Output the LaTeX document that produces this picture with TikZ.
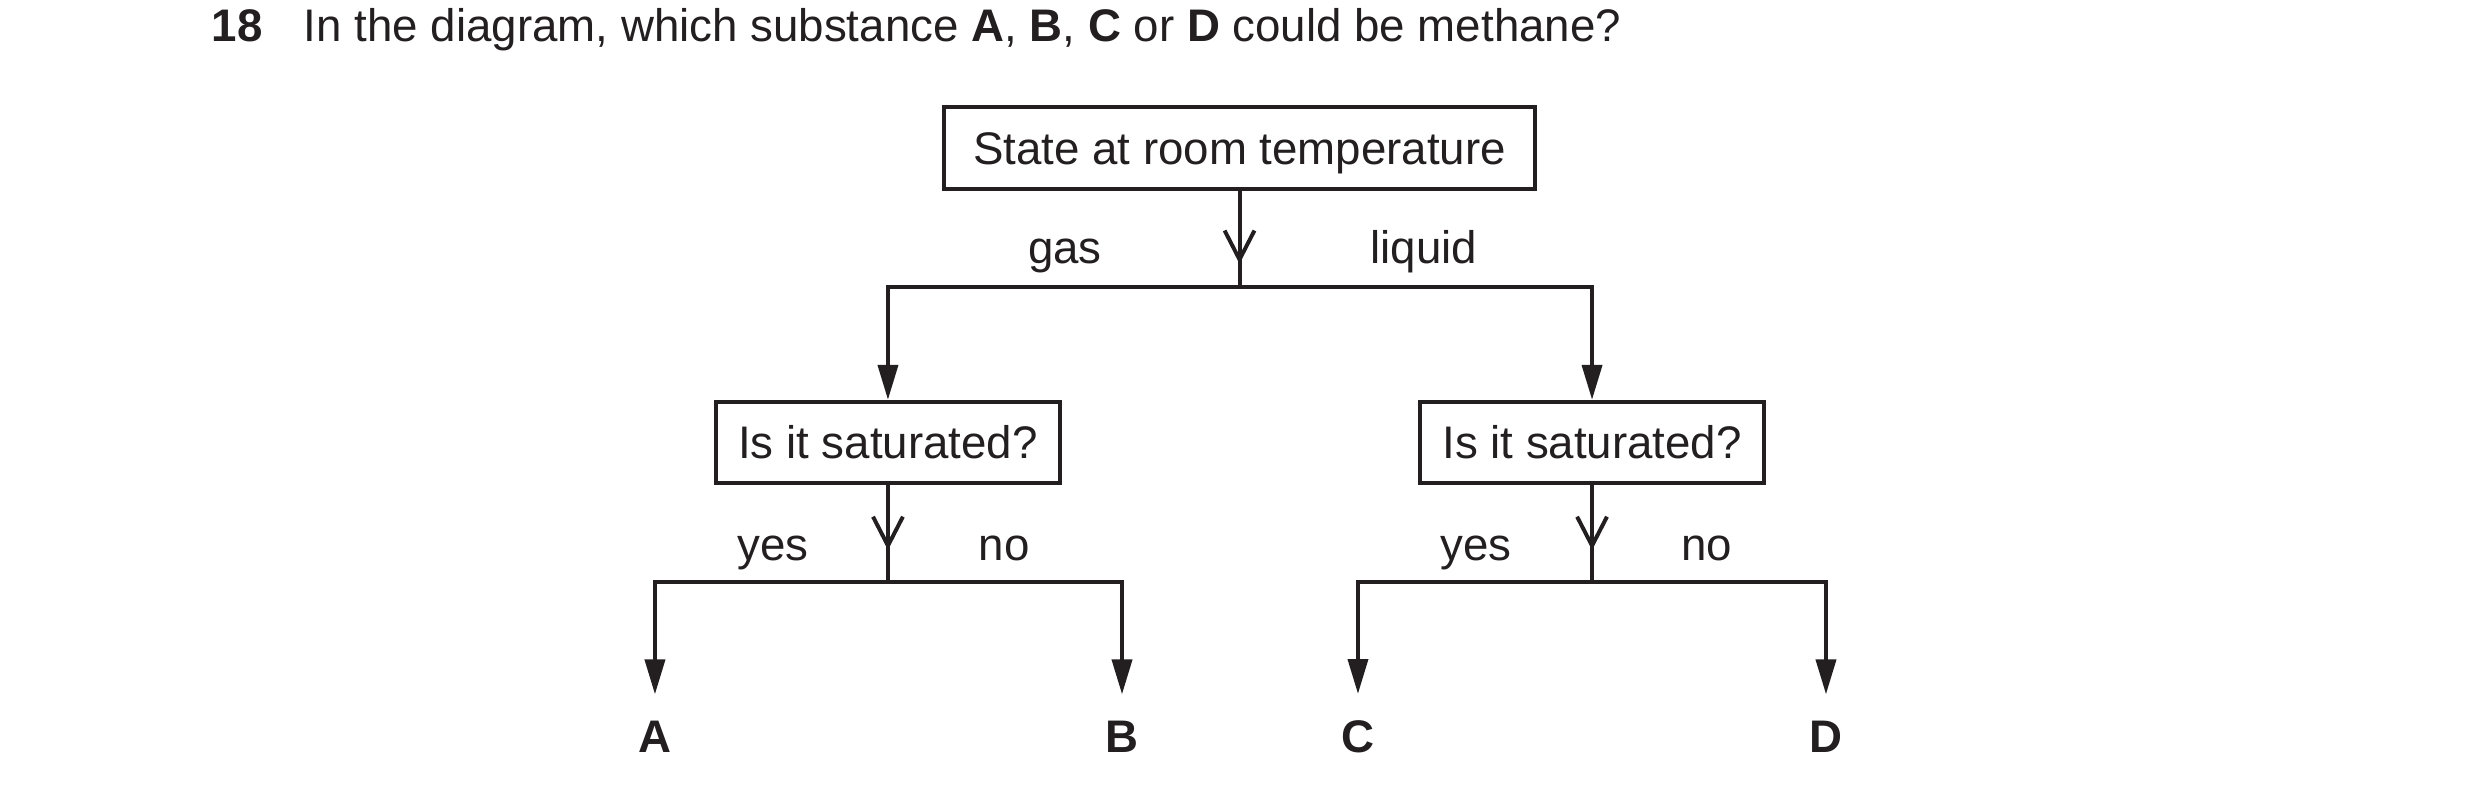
\documentclass[tikz,border=0pt]{standalone}
\usepackage{xcolor}
\usepackage{fontspec}
\setmainfont{Liberation Sans}
\usetikzlibrary{arrows.meta,decorations.markings}
\definecolor{ink}{HTML}{231F20}

\begin{document}
\begin{tikzpicture}[
  color=ink, line width=0.95pt,
  box/.style={draw, inner sep=0pt, minimum height=0.69cm, text height=7.9pt, text depth=0pt, font=\fontsize{11}{13}\selectfont},
  choice/.style={anchor=base, inner sep=0pt, font=\fontsize{11}{13}\selectfont},
  answer/.style={inner sep=0pt, outer sep=6.5pt, font=\fontsize{11}{13}\selectfont\bfseries},
  branch/.style={-{Triangle[length=8.4pt,width=4.8pt]}},
  vmark/.style={postaction={decorate}, decoration={markings, mark=at position #1 with {\arrow{Straight Barb[length=7pt,width=7.2pt]}}}}
]
\useasboundingbox (0,0) rectangle (21,6.715);

\node (q18) at (1.778,6.362) [anchor=base west, inner sep=0pt, font=\fontsize{11}{13}\selectfont\bfseries] {18};
\node (qtext) at (2.557,6.362) [anchor=base west, inner sep=0pt, font=\fontsize{11}{13}\selectfont] {In the diagram, which substance \textbf{A}, \textbf{B}, \textbf{C} or \textbf{D} could be methane?};

\node (state) at (10.496,5.462) [box, minimum width=5.004cm] {State at room temperature};
\coordinate (split) at (10.496,4.285);
\node (gas) at (9.018,4.488) [choice] {gas};
\node (liquid) at (12.058,4.488) [choice] {liquid};

\node (satgas) at (7.519,2.968) [box, minimum width=2.913cm] {Is it saturated?};
\node (satliq) at (13.481,2.968) [box, minimum width=2.913cm] {Is it saturated?};
\coordinate (splitgas) at (7.519,1.787);
\coordinate (splitliq) at (13.481,1.787);

\node (yesgas) at (6.546,1.973) [choice] {yes};
\node (nogas) at (8.502,1.973) [choice] {no};
\node (yesliq) at (12.498,1.973) [choice] {yes};
\node (noliq) at (14.454,1.973) [choice] {no};

\node (A) at (5.546,0.474) [answer] {A};
\node (B) at (9.501,0.474) [answer] {B};
\node (C) at (11.499,0.474) [answer] {C};
\node (D) at (15.462,0.474) [answer] {D};

\draw [vmark=0.76] (state.south) -- (split);
\draw [branch] (split) -| (satgas.north);
\draw [branch] (split) -| (satliq.north);

\draw [vmark=0.67] (satgas.south) -- (splitgas);
\draw [branch] (splitgas) -| (A.north);
\draw [branch] (splitgas) -| (B.north);

\draw [vmark=0.67] (satliq.south) -- (splitliq);
\draw [branch] (splitliq) -| (C.north);
\draw [branch] (splitliq) -| (D.north);
\end{tikzpicture}
\end{document}
